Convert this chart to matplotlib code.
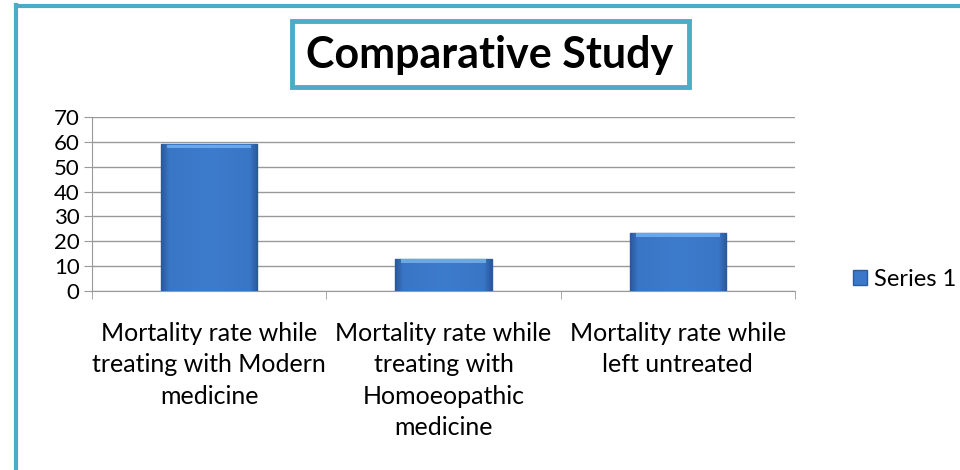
import numpy as np
import matplotlib.pyplot as plt
from matplotlib.colors import LinearSegmentedColormap
from matplotlib.lines import Line2D
from matplotlib.patches import Rectangle

categories = [
    "Mortality rate while\ntreating with Modern\nmedicine",
    "Mortality rate while\ntreating with\nHomoeopathic\nmedicine",
    "Mortality rate while\nleft untreated",
]
values = [59, 13, 23.5]
series_name = "Series 1"
y_ticks = [0, 10, 20, 30, 40, 50, 60, 70]

teal = "#4BACC6"
bar_color = "#3B78C9"
font = "Lato"

fig = plt.figure(figsize=(9.6, 4.7), dpi=100)
fig.patch.set_facecolor("white")

# frame of the chart area (left and top edges only are visible)
fig.add_artist(Line2D([16 / 960, 16 / 960], [0, 1 - 5 / 470], color=teal, lw=3))
fig.add_artist(Line2D([16 / 960, 1], [1 - 6 / 470, 1 - 6 / 470], color=teal, lw=3))

# title box
fig.add_artist(Rectangle((292 / 960, 1 - 87 / 470), 397 / 960, 66 / 470,
                         transform=fig.transFigure, fill=False, edgecolor=teal, lw=3.5))
fig.text(490 / 960, 1 - 55 / 470, "Comparative Study", ha="center", va="center",
         fontsize=31, fontweight="bold", family=font)

ax = fig.add_axes([92 / 960, 1 - 291 / 470, 703 / 960, 174 / 470])
x = range(len(categories))
bars = ax.bar(x, values, width=0.41, color=bar_color, edgecolor="#2B5C9E", lw=1,
              label=series_name, zorder=3)

# bevelled look: narrow darker sides, flat middle, light strip on top
shade = LinearSegmentedColormap.from_list(
    "bevel", [(0, "#2A5A9A"), (0.08, "#3A76C6"), (0.5, "#3D7BCC"), (0.92, "#3A76C6"), (1, "#2A5A9A")])
grad = np.linspace(0, 1, 96).reshape(1, -1)
for b in bars:
    x0, w, h = b.get_x(), b.get_width(), b.get_height()
    im = ax.imshow(grad, cmap=shade, extent=(x0, x0 + w, 0, h), aspect="auto", zorder=3.5)
    im.set_clip_path(b)
    top = h - min(1.6, h * 0.12)
    ax.fill_between([x0 + w * 0.06, x0 + w * 0.94], top, h - 0.2, color="#6AA6EA", lw=0, zorder=3.6)

ax.set_xlim(-0.5, len(categories) - 0.5)
ax.set_ylim(0, 70)
ax.set_yticks(y_ticks)
ax.set_yticklabels([str(t) for t in y_ticks], family=font, fontsize=16)
ax.yaxis.grid(True, color="#999999", lw=1, zorder=0)

ax.set_xticks(list(x))
ax.set_xticklabels(categories, family=font, fontsize=18, linespacing=1.45, va="top")
ax.tick_params(axis="x", which="major", length=0, pad=22)
ax.set_xticks([i - 0.5 for i in range(len(categories) + 1)], minor=True)
ax.tick_params(axis="x", which="minor", length=6, color="#999999", direction="out")
ax.tick_params(axis="y", length=6, color="#999999", pad=3)

for side in ["top", "right"]:
    ax.spines[side].set_visible(False)
ax.spines["left"].set_color("#999999")
ax.spines["bottom"].set_color("#999999")

leg = fig.legend(loc="center left", bbox_to_anchor=(832 / 960, 1 - 279 / 470),
                 frameon=False, prop={"family": font, "size": 17},
                 handlelength=0.6, handleheight=0.6, handletextpad=0.3)

fig.savefig("out.png", dpi=100)
